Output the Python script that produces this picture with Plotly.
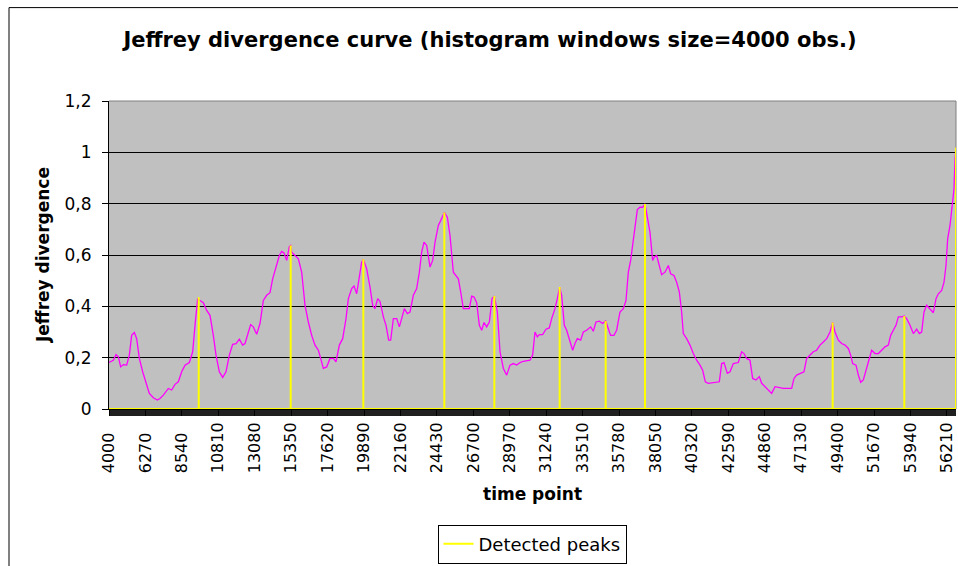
import plotly.graph_objects as go

# ---- data ----
time_points = [
    4000, 4270, 4436, 4582, 4727, 4893, 5101, 5267, 5412, 5579, 5724, 5890, 6098, 6305, 6513,
    6762, 7012, 7178, 7386, 7697, 7905, 8112, 8320, 8528, 8736, 9006, 9213, 9359, 9525, 9670,
    9878, 10086, 10293, 10501, 10667, 10875, 11083, 11290, 11498, 11706, 11913, 12121, 12329,
    12474, 12682, 12827, 12993, 13201, 13409, 13617, 13824, 14032, 14198, 14406, 14613, 14759,
    14904, 15070, 15237, 15320, 15382, 15590, 15797, 16005, 16213, 16420, 16628, 16836, 17044,
    17189, 17355, 17563, 17771, 17978, 18144, 18352, 18560, 18767, 18913, 19121, 19266, 19432,
    19598, 19744, 19848, 20055, 20263, 20429, 20575, 20741, 20886, 21094, 21260, 21426, 21551,
    21717, 21925, 22091, 22236, 22402, 22589, 22755, 22963, 23171, 23337, 23482, 23628, 23794,
    24002, 24168, 24313, 24521, 24666, 24832, 24894, 25081, 25247, 25455, 25621, 25767, 25912,
    26078, 26452, 26598, 26743, 26909, 27075, 27221, 27366, 27532, 27699, 27865, 28010, 28197,
    28363, 28571, 28779, 28986, 29194, 29402, 29610, 29817, 30230, 30396, 30542, 30687, 30812,
    31019, 31227, 31435, 31580, 31788, 31933, 32079, 32203, 32369, 32515, 32723, 32889, 33034,
    33180, 33388, 33553, 33761, 34010, 34176, 34343, 34550, 34758, 34945, 35049, 35256, 35464,
    35630, 35838, 36046, 36212, 36357, 36503, 36669, 36814, 36918, 37084, 37250, 37396, 37541,
    37707, 37873, 37977, 38123, 38289, 38434, 38642, 38850, 38995, 39203, 39369, 39535, 39680,
    39784, 39992, 40200, 40407, 40615, 40823, 40989, 41155, 41342, 42027, 42173, 42318, 42526,
    42692, 42900, 43211, 43419, 43564, 43731, 43938, 44104, 44312, 44520, 44665, 44873, 45081,
    45288, 45496, 45704, 46015, 46535, 46680, 46846, 47054, 47303, 47469, 47677, 47885, 48092,
    48300, 48508, 48715, 48923, 49089, 49234, 49442, 49650, 49858, 50065, 50211, 50335, 50543,
    50689, 50834, 51000, 51208, 51374, 51519, 51727, 51935, 52142, 52350, 52558, 52703, 52869,
    53035, 53181, 53389, 53555, 53700, 53908, 54116, 54323, 54489, 54635, 54780, 54946, 55154,
    55362, 55528, 55673, 55881, 56027, 56151, 56255, 56400, 56525, 56649, 56712, 56774,
]
divergence = [
    0.181, 0.190, 0.212, 0.203, 0.164, 0.173, 0.171, 0.210, 0.287, 0.298, 0.274, 0.197, 0.145, 0.106, 0.061,
    0.044, 0.035, 0.041, 0.054, 0.080, 0.074, 0.096, 0.106, 0.145, 0.171, 0.181, 0.223, 0.326, 0.430, 0.423,
    0.414, 0.384, 0.365, 0.287, 0.210, 0.145, 0.123, 0.145, 0.210, 0.252, 0.255, 0.272, 0.249,
    0.255, 0.294, 0.329, 0.320, 0.291, 0.333, 0.423, 0.443, 0.453, 0.507, 0.553, 0.598, 0.614,
    0.608, 0.579, 0.633, 0.637, 0.611, 0.598, 0.585, 0.533, 0.404, 0.339, 0.287, 0.249, 0.229,
    0.197, 0.158, 0.164, 0.197, 0.197, 0.184, 0.249, 0.274, 0.352, 0.430, 0.469, 0.479, 0.449,
    0.521, 0.572, 0.583, 0.546, 0.475, 0.404, 0.391, 0.430, 0.419, 0.359, 0.326, 0.268, 0.268,
    0.352, 0.352, 0.320, 0.352, 0.391, 0.372, 0.378, 0.443, 0.469, 0.533, 0.611, 0.650, 0.637,
    0.553, 0.579, 0.650, 0.715, 0.734, 0.753, 0.766, 0.747, 0.676, 0.533, 0.521, 0.507, 0.456,
    0.391, 0.391, 0.440, 0.436, 0.414, 0.326, 0.307, 0.337, 0.320, 0.339, 0.430, 0.440, 0.378,
    0.223, 0.158, 0.132, 0.171, 0.177, 0.171, 0.181, 0.186, 0.190, 0.210, 0.300, 0.281, 0.290,
    0.290, 0.311, 0.316, 0.352, 0.391, 0.430, 0.475, 0.443, 0.326, 0.307, 0.261, 0.229, 0.255,
    0.274, 0.268, 0.300, 0.307, 0.320, 0.303, 0.339, 0.342, 0.333, 0.343, 0.326, 0.287, 0.287,
    0.307, 0.378, 0.391, 0.423, 0.533, 0.579, 0.663, 0.740, 0.777, 0.786, 0.786, 0.799, 0.753,
    0.689, 0.579, 0.592, 0.598, 0.559, 0.523, 0.533, 0.559, 0.527, 0.520, 0.494, 0.456, 0.378,
    0.294, 0.274, 0.249, 0.216, 0.190, 0.171, 0.151, 0.106, 0.100, 0.106, 0.177, 0.181, 0.139,
    0.145, 0.177, 0.181, 0.223, 0.216, 0.197, 0.190, 0.119, 0.113, 0.126, 0.100, 0.087, 0.074,
    0.061, 0.087, 0.083, 0.080, 0.080, 0.119, 0.132, 0.139, 0.145, 0.197, 0.210, 0.223, 0.229,
    0.249, 0.261, 0.274, 0.300, 0.337, 0.300, 0.268, 0.255, 0.249, 0.236, 0.210, 0.177, 0.171,
    0.132, 0.104, 0.113, 0.158, 0.197, 0.229, 0.216, 0.216, 0.229, 0.242, 0.249, 0.287, 0.307,
    0.326, 0.359, 0.359, 0.362, 0.352, 0.326, 0.294, 0.311, 0.294, 0.300, 0.378, 0.404, 0.391,
    0.375, 0.430, 0.449, 0.462, 0.494, 0.559, 0.663, 0.715, 0.792, 0.857, 0.973, 1.019,
]
peak_times = [9590, 15320, 19848, 24894, 28010, 32079, 34945, 37396, 49089, 53555, 56774]
peak_values = [0.435, 0.637, 0.583, 0.766, 0.440, 0.475, 0.343, 0.799, 0.337, 0.362, 1.019]
x_tick_values = [4000 + 2270 * i for i in range(24)]
y_tick_values = [0, 0.2, 0.4, 0.6, 0.8, 1.0, 1.2]
y_tick_labels = ["0", "0,2", "0,4", "0,6", "0,8", "1", "1,2"]

# yellow "detected peaks" series: zero everywhere, spikes at peaks
peak_x = [time_points[0]]
peak_y = [0]
for t, v in zip(peak_times, peak_values):
    peak_x += [t, t, t]
    peak_y += [0, v, 0]
peak_x.append(time_points[-1])
peak_y.append(0)

x_tick_text = [str(v) + ("\u00a0\u00a0" if len(str(v)) < 5 else "") for v in x_tick_values]

FONT = "DejaVu Sans"
W, H = 958, 566
ML, MR, MT, MB = 109, 2, 101, 155
PW, PH = W - ML - MR, H - MT - MB


def px(x):
    return (x - ML) / PW


def py(y):
    return (H - MB - y) / PH


fig = go.Figure()
fig.add_trace(go.Scatter(
    x=time_points, y=divergence, mode="lines",
    line=dict(color="#FF00FF", width=1.3), showlegend=False, name="Jeffrey divergence",
))
fig.add_trace(go.Scatter(
    x=peak_x, y=peak_y, mode="lines",
    line=dict(color="#FFFF00", width=2), name="Detected peaks", showlegend=True,
))

fig.update_layout(
    width=W, height=H,
    margin=dict(l=ML, r=MR, t=MT, b=MB, pad=0),
    paper_bgcolor="white",
    plot_bgcolor="#C0C0C0",
    font=dict(family=FONT, color="black", size=16),
    title=dict(
        text="<b>Jeffrey divergence curve (histogram windows size=4000 obs.)</b>",
        x=490 / W, xanchor="center", y=1 - 40 / H, yanchor="middle",
        font=dict(family=FONT, size=21, color="black"),
    ),
    xaxis=dict(
        range=[time_points[0], time_points[-1]],
        tickmode="array", tickvals=x_tick_values, ticktext=x_tick_text,
        tickangle=-90, tickfont=dict(family=FONT, size=16),
        ticks="outside", ticklen=6, tickcolor="black", tickwidth=1,
        showgrid=False, zeroline=False,
        showline=True, linecolor="black", linewidth=1,
        minor=dict(ticks="outside", ticklen=6, tickcolor="#202020", tickwidth=1,
                   tickmode="linear", tick0=time_points[0], dtick=50, showgrid=False),
    ),
    yaxis=dict(
        range=[0, 1.2],
        tickmode="array", tickvals=y_tick_values, ticktext=y_tick_labels,
        tickfont=dict(family=FONT, size=17),
        ticks="outside", ticklen=6, tickcolor="black", tickwidth=1,
        ticklabelstandoff=7,
        showgrid=True, gridcolor="black", gridwidth=1, zeroline=False,
        showline=True, linecolor="black", linewidth=1,
    ),
    legend=dict(
        orientation="h", x=px(532), xanchor="center", y=py(547), yanchor="middle",
        bordercolor="black", borderwidth=1, bgcolor="white",
        font=dict(family=FONT, size=18),
    ),
    annotations=[
        dict(text="<b>Jeffrey divergence</b>", x=px(43), y=0.5, xref="paper", yref="paper",
             textangle=-90, showarrow=False, xanchor="center", yanchor="middle",
             font=dict(family=FONT, size=17)),
        dict(text="<b>time point</b>", x=0.5, y=py(497), xref="paper", yref="paper",
             showarrow=False, xanchor="center", yanchor="middle",
             font=dict(family=FONT, size=17)),
    ],
    shapes=[
        dict(type="rect", xref="paper", yref="paper", x0=px(9), x1=px(962), y0=py(572), y1=py(7),
             line=dict(color="black", width=1), fillcolor="rgba(0,0,0,0)", layer="above"),
        dict(type="line", xref="paper", yref="paper", x0=0, x1=1, y0=1, y1=1,
             line=dict(color="#808080", width=1), layer="between"),
        dict(type="line", xref="paper", yref="paper", x0=1, x1=1, y0=0, y1=1,
             line=dict(color="#808080", width=1), layer="between"),
    ],
)

fig.write_html(
    "out.html",
    config={"displayModeBar": False},
    post_script="document.body.style.margin='0';document.body.style.overflow='hidden';",
)
